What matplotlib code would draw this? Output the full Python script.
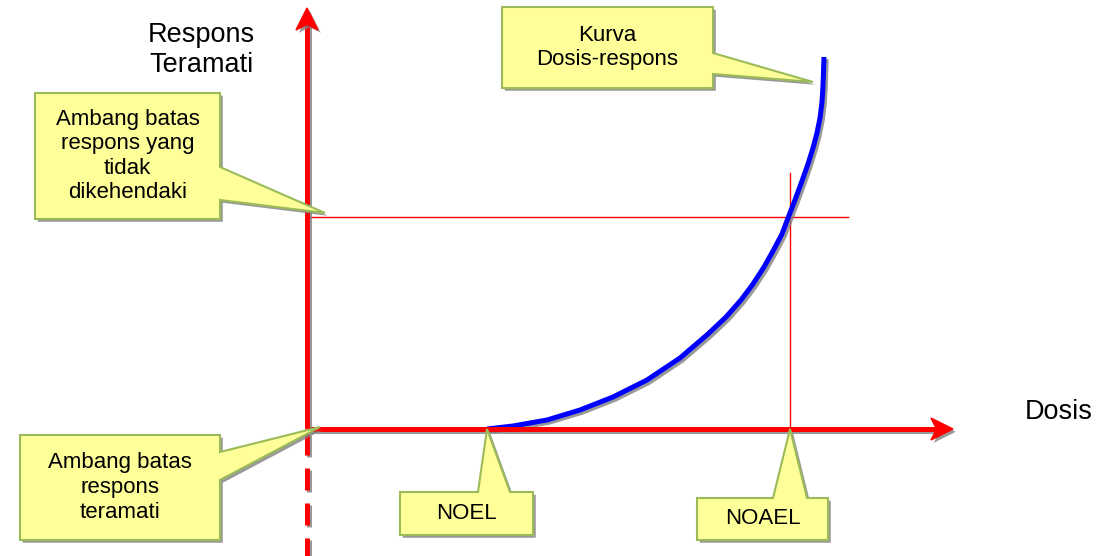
import matplotlib.pyplot as plt
import matplotlib.patheffects as pe
from matplotlib.patches import Polygon

dose = [180, 206, 240, 273, 306, 340, 373, 401, 419, 434, 446, 457, 466, 475,
        481, 488, 495, 501, 506, 510, 513, 515, 516, 517]
response = [0, 3, 9, 19, 32, 49, 71, 95, 112, 129, 145, 162, 178, 195,
            211, 229, 248, 265, 281, 296, 311, 327, 343, 372]

# Axis extents and reference levels
dose_max = 646
response_max = 421
response_min = -127
noel = 180
noael = 483
threshold = 212
threshold_end = 541
noael_top = 256

axis_labels = ["Respons\nTeramati", "Dosis"]
box_texts = ["Ambang batas\nrespons yang\ntidak\ndikehendaki",
             "Ambang batas\nrespons\nteramati",
             "Kurva\nDosis-respons",
             "NOEL",
             "NOAEL"]

RED = "#FF0000"
BLUE = "#0000FF"
BOX_FACE = "#FFFF99"
BOX_EDGE = "#9BBB59"
FONT = "Liberation Sans"

fig = plt.figure(figsize=(10.98, 5.56), dpi=100)
ax = fig.add_axes([0, 0, 1, 1])
ax.set_xlim(-307, 791)
ax.set_ylim(-127, 429)
ax.axis("off")

line_shadow = [pe.SimpleLineShadow(offset=(1.6, -1.6), shadow_color="gray", alpha=0.8), pe.Normal()]
patch_shadow = [pe.withSimplePatchShadow(offset=(2, -2), shadow_rgbFace="gray", alpha=0.8)]


def arrow_head(tip, direction, length=22, half_width=11):
    x, y = tip
    if direction == "right":
        pts = [(x, y), (x - length, y + half_width), (x - length * 0.75, y), (x - length, y - half_width)]
    else:
        pts = [(x, y), (x - half_width, y - length), (x, y - length * 0.75), (x + half_width, y - length)]
    ax.add_patch(Polygon(pts, closed=True, facecolor=RED, edgecolor=RED, lw=1,
                         path_effects=patch_shadow, zorder=5))


# thin reference lines
ax.plot([0, threshold_end], [threshold, threshold], color=RED, lw=1, zorder=2)
ax.plot([noael, noael], [0, noael_top], color=RED, lw=1, zorder=2)

# blue curve
ax.plot(dose, response, color=BLUE, lw=3.6, solid_capstyle="butt", solid_joinstyle="round",
        path_effects=line_shadow, zorder=3)

# axes arrows
ax.plot([0, dose_max - 16], [0, 0], color=RED, lw=3.6, solid_capstyle="butt",
        path_effects=line_shadow, zorder=4)
ax.plot([0, 0], [0, response_max - 16], color=RED, lw=3.6, solid_capstyle="butt",
        path_effects=line_shadow, zorder=4)
ax.plot([0, 0], [-4, response_min], color=RED, lw=3.6, dashes=(4.4, 2.6),
        path_effects=line_shadow, zorder=4)
arrow_head((dose_max, 0), "right")
arrow_head((0, response_max), "up")


def callout(box, side, base, tip, text):
    x0, y0, x1, y1 = box
    if side == "right":
        pts = [(x0, y0), (x1, y0), (x1, base[0]), tip, (x1, base[1]), (x1, y1), (x0, y1)]
    else:
        pts = [(x0, y0), (x1, y0), (x1, y1), (base[1], y1), tip, (base[0], y1), (x0, y1)]
    ax.add_patch(Polygon(pts, closed=True, facecolor=BOX_FACE, edgecolor=BOX_EDGE, lw=1.5,
                         joinstyle="miter", path_effects=patch_shadow, zorder=6))
    ax.text((x0 + x1) / 2, (y0 + y1) / 2, text, ha="center", va="center", fontsize=16,
            family=FONT, linespacing=1.22, zorder=7)


callout((-272, 210, -87, 336), "right", (229, 262), (18, threshold + 4), box_texts[0])
callout((-287, -111, -87, -6), "right", (-51, -23), (13, 2), box_texts[1])
callout((195, 341, 406, 422), "right", (355, 376), (506, 347), box_texts[2])
callout((93, -106, 226, -63), "top", (171, 203), (noel, 0), box_texts[3])
callout((390, -111, 521, -69), "top", (466, 500), (noael, 0), box_texts[4])

ax.text(-106, 379, axis_labels[0], ha="center", va="center", fontsize=19.5, family=FONT,
        linespacing=1.25)
ax.text(752, 17, axis_labels[1], ha="center", va="center", fontsize=19.5, family=FONT)

fig.savefig("out.png", dpi=100)
